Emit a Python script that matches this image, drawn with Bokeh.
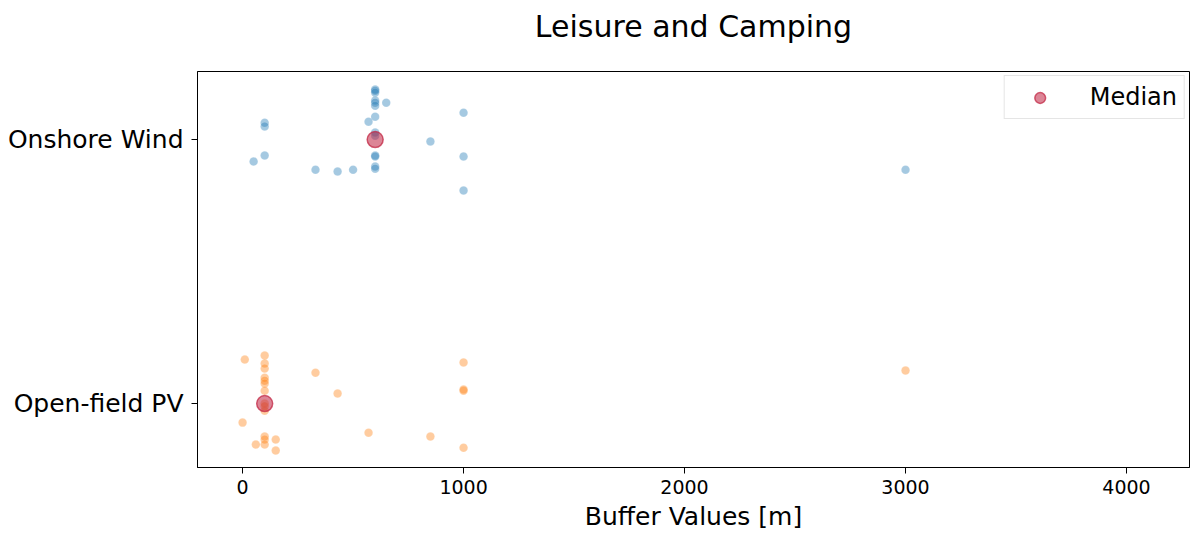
from bokeh.plotting import figure
from bokeh.models import FixedTicker, Range1d, Legend, LegendItem, Title
from bokeh.embed import file_html
from bokeh.resources import INLINE

categories = ["Open-field PV", "Onshore Wind"]
median_x = [100, 600]

wind_x = [600, 600, 600, 600, 600, 600, 650, 100, 100, 570, 600, 600, 600,
          850, 1000, 1000, 1000, 100, 50, 330, 430, 500, 600, 600, 600, 600, 3000]
wind_jit = [0.19, 0.185, 0.178, 0.148, 0.14, 0.128, 0.14, 0.064, 0.05, 0.068, 0.087, 0.027, 0.015,
            -0.007, 0.102, -0.064, -0.193, -0.06, -0.083, -0.114, -0.121, -0.114, -0.06, -0.064, -0.102, -0.11, -0.114]

pv_x = [10, 100, 100, 100, 100, 100, 100, 100, 100, 0, 100, 100, 100, 60, 150, 150,
        330, 430, 570, 850, 1000, 1000, 1000, 1000, 3000, 100, 100]
pv_jit = [0.167, 0.182, 0.152, 0.133, 0.098, 0.087, 0.076, 0.049, -0.027, -0.072, -0.125, -0.136, -0.155,
          -0.155, -0.136, -0.178, 0.117, 0.038, -0.11, -0.125, 0.156, 0.049, 0.053, -0.167, 0.125, 0.0, -0.01]

FONT = "DejaVu Sans"

p = figure(width=1190, height=535, output_backend="svg", toolbar_location=None,
           x_range=Range1d(-204, 4285), y_range=Range1d(-0.242, 1.258),
           min_border_left=197, min_border_right=1, min_border_top=0, min_border_bottom=68,
           title="Leisure and Camping")
p.title.align = "center"
p.title.text_font = FONT
p.title.text_font_size = "30px"
p.title.text_font_style = "normal"
p.title.text_color = "black"
p.title.offset = 0
p.title.standoff = 12

# empty spacer between title and plot frame
p.add_layout(Title(text=" ", text_font_size="10px", standoff=9), "above")

wind_y = [1 + j for j in wind_jit]
pv_y = [0 + j for j in pv_jit]

p.scatter(wind_x, wind_y, size=8.5, fill_color="#1f77b4", fill_alpha=0.4, line_color="white", line_alpha=0.3, line_width=0.5)
p.scatter(pv_x, pv_y, size=8.5, fill_color="#ff7f0e", fill_alpha=0.4, line_color="white", line_alpha=0.3, line_width=0.5)
med = p.scatter(median_x, [0, 1], size=16, fill_color="#c0213f", fill_alpha=0.55,
                line_color="#c0213f", line_alpha=0.7, line_width=1.5)

legend = Legend(items=[LegendItem(label="Median", renderers=[med])], location="top_right",
                label_text_font=FONT, label_text_font_size="24px", label_text_color="black",
                border_line_color="#cccccc", border_line_width=1, margin=4, padding=7,
                glyph_width=56, glyph_height=27, label_standoff=22, spacing=0, label_height=24)
p.add_layout(legend)

p.xaxis.ticker = FixedTicker(ticks=[0, 1000, 2000, 3000, 4000])
p.yaxis.ticker = FixedTicker(ticks=[0, 1])
p.yaxis.major_label_overrides = {0: categories[0], 1: categories[1]}
p.xaxis.axis_label = "Buffer Values [m]"
for ax in (p.xaxis, p.yaxis):
    ax.major_label_text_font = FONT
    ax.axis_label_text_font = FONT
    ax.axis_label_text_font_size = "25px"
    ax.axis_label_text_font_style = "normal"
    ax.axis_label_text_color = "black"
    ax.minor_tick_line_color = None
    ax.major_tick_out = 6
    ax.major_tick_in = 0
    ax.axis_line_color = "black"
    ax.major_tick_line_color = "black"
    ax.major_label_text_color = "black"
p.xaxis.major_label_text_font_size = "19px"
p.yaxis.major_label_text_font_size = "25px"
p.yaxis.major_label_standoff = 8
p.xaxis.major_label_standoff = 6
p.xaxis.axis_label_standoff = 5
p.grid.visible = False
p.outline_line_color = "black"
p.outline_line_alpha = 1

open("out.html", "w").write(file_html(p, INLINE))
